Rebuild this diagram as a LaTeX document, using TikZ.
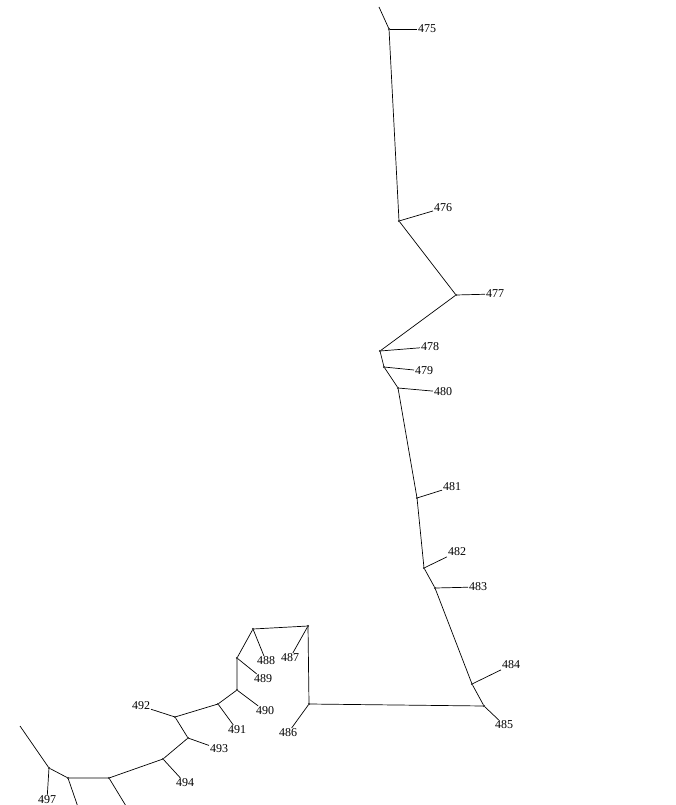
\documentclass[tikz,border=0pt]{standalone}
\usepackage{fontspec}
\setmainfont{Liberation Serif}
\usepackage{tikz}

\begin{document}
\begin{tikzpicture}[x=1pt, y=-1pt, line width=0.7pt,
  every node/.style={inner sep=1pt, outer sep=0pt, font=\fontsize{12}{14}\selectfont},
  dot/.style={circle, fill=black, inner sep=0pt, minimum size=2.4pt}]
\useasboundingbox (0,0) rectangle (675,805);

% branching points
\node[dot] (n475) at (389,29) {};
\node[dot] (n476) at (399,221) {};
\node[dot] (n477) at (456,295) {};
\node[dot] (n478) at (380,351) {};
\node[dot] (n479) at (384,367) {};
\node[dot] (n480) at (398,388) {};
\node[dot] (n481) at (417,498) {};
\node[dot] (n482) at (424,568) {};
\node[dot] (n483) at (435,588) {};
\node[dot] (n484) at (472,684) {};
\node[dot] (n485) at (484,706) {};
\node[dot] (n486) at (309,704) {};
\node[dot] (n487) at (308,626) {};
\node[dot] (n488) at (253,629) {};
\node[dot] (n489) at (237,658) {};
\node[dot] (n490) at (237,690) {};
\node[dot] (n491) at (218,704) {};
\node[dot] (n492) at (175,717) {};
\node[dot] (n493) at (188,738) {};
\node[dot] (n494) at (163,759) {};
\node[dot] (n495) at (109,778) {};
\node[dot] (n496) at (68,778) {};
\node[dot] (n497) at (49,768) {};

% free ends
\coordinate (top) at (379,7);
\coordinate (end495) at (126,806);
\coordinate (end496) at (79,810);
\coordinate (tail) at (20,726);

% labels
\node (t475) at (427,29) {475};
\node (t476) at (443,208) {476};
\node (t477) at (495,294) {477};
\node (t478) at (430,347) {478};
\node (t479) at (424,371) {479};
\node (t480) at (443,392) {480};
\node (t481) at (452,487) {481};
\node (t482) at (457,552) {482};
\node (t483) at (478,587) {483};
\node (t484) at (511,665) {484};
\node (t485) at (504,725) {485};
\node (t486) at (288,733) {486};
\node (t487) at (290,658) {487};
\node (t488) at (266,661) {488};
\node (t489) at (263,679) {489};
\node (t490) at (265,711) {490};
\node (t491) at (237,730) {491};
\node (t492) at (141,706) {492};
\node (t493) at (219,749) {493};
\node (t494) at (185,783) {494};
\node (t497) at (47,800) {497};

% backbone
\draw (top) -- (n475) -- (n476) -- (n477) -- (n478) -- (n479) -- (n480) -- (n481)
  -- (n482) -- (n483) -- (n484) -- (n485) -- (n486) -- (n487) -- (n488) -- (n489)
  -- (n490) -- (n491) -- (n492) -- (n493) -- (n494) -- (n495) -- (n496) -- (n497) -- (tail);

% leaves
\draw (n475) -- (t475);
\draw (n476) -- (t476);
\draw (n477) -- (t477);
\draw (n478) -- (t478);
\draw (n479) -- (t479);
\draw (n480) -- (t480);
\draw (n481) -- (t481);
\draw (n482) -- (t482);
\draw (n483) -- (t483);
\draw (n484) -- (t484);
\draw (n485) -- (t485);
\draw (n486) -- (t486);
\draw (n487) -- (t487);
\draw (n488) -- (t488);
\draw (n489) -- (t489);
\draw (n490) -- (t490);
\draw (n491) -- (t491);
\draw (n492) -- (t492);
\draw (n493) -- (t493);
\draw (n494) -- (t494);
\draw (n495) -- (end495);
\draw (n496) -- (end496);
\draw (n497) -- (t497);
\end{tikzpicture}
\end{document}
